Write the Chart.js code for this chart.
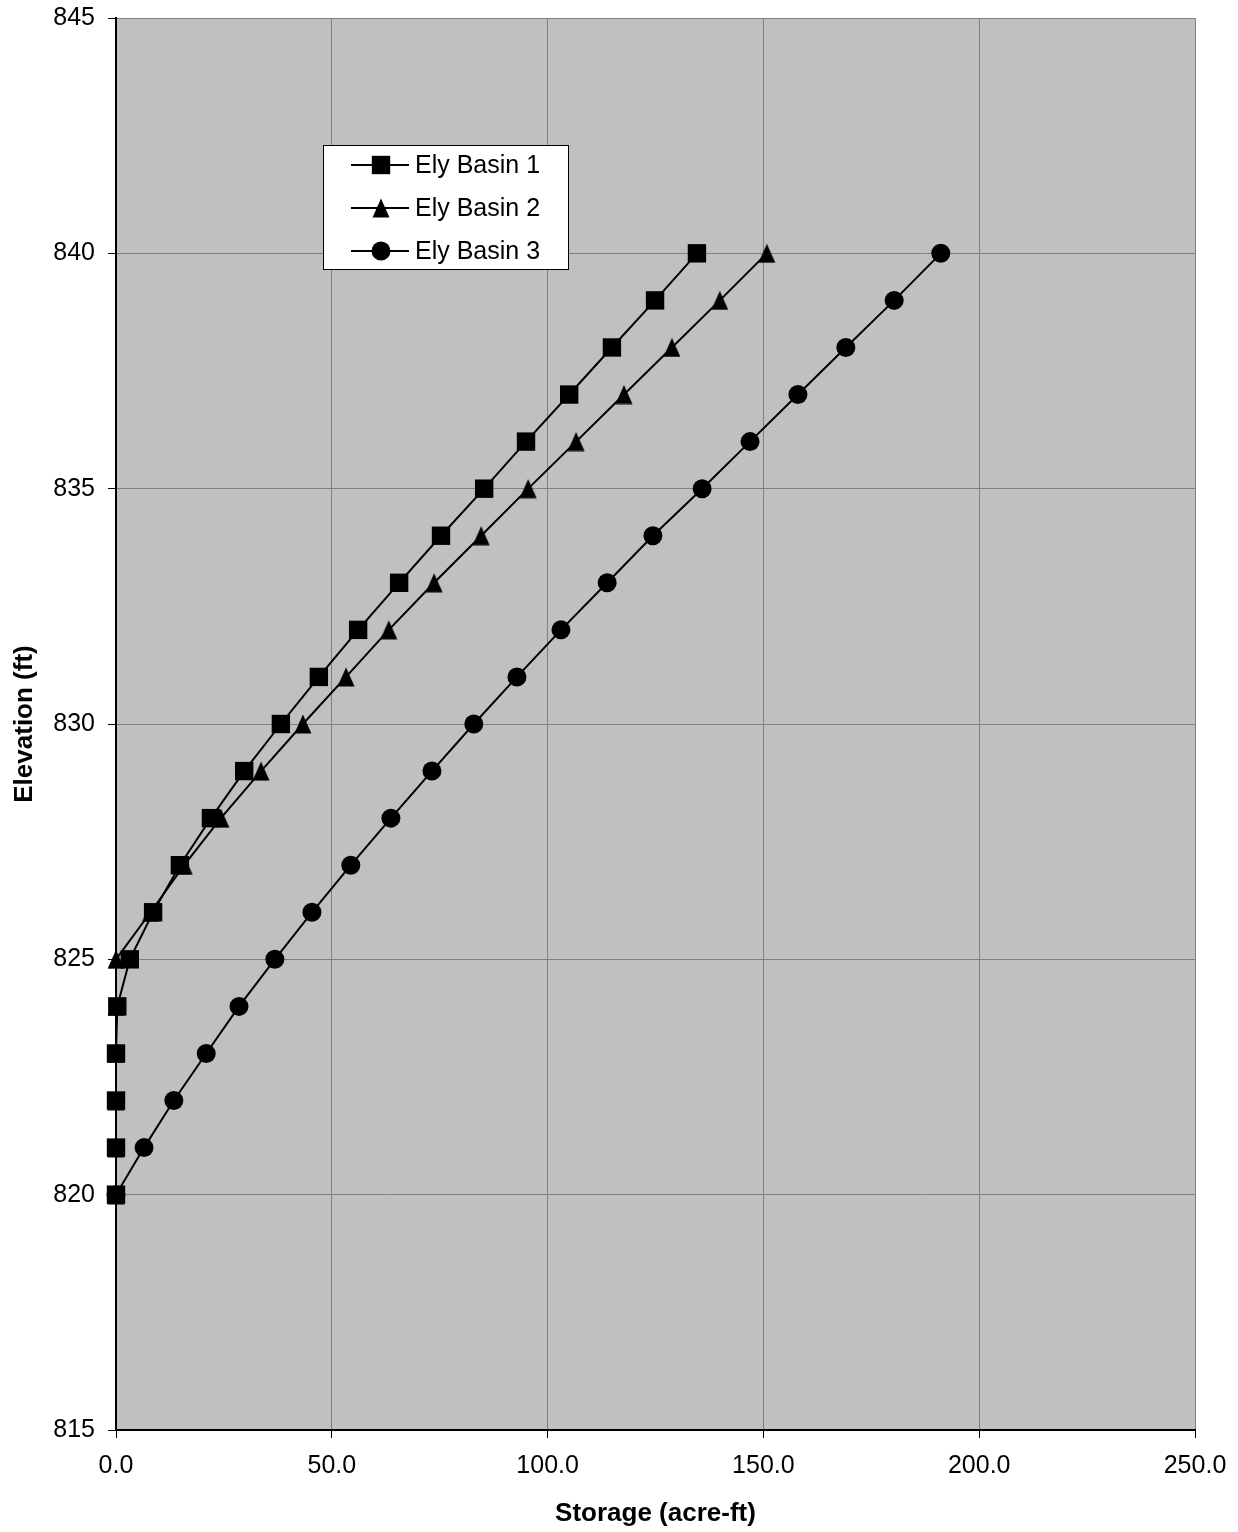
<!DOCTYPE html>
<html>
<head>
<meta charset="utf-8">
<script src="https://cdn.jsdelivr.net/npm/chart.js@4"></script>
<style>
  html, body { margin: 0; padding: 0; background: #fff; }
  #wrap { width: 1238px; height: 1532px; }
</style>
</head>
<body>
<div id="wrap"><canvas id="grafico" width="1238" height="1532"></canvas></div>
<script>
// Datos
const elevaciones = [820, 821, 822, 823, 824, 825, 826, 827, 828, 829, 830, 831, 832, 833, 834, 835, 836, 837, 838, 839, 840];
const cuenca1 = [0, 0, 0, 0, 0.3, 3.2, 8.6, 14.8, 22.0, 29.7, 38.2, 47.0, 56.1, 65.6, 75.3, 85.3, 95.0, 105.0, 114.9, 124.9, 134.6];
const cuenca2 = [0, 0, 0, 0, 0, 0, 8.0, 15.8, 24.3, 33.6, 43.3, 53.3, 63.2, 73.7, 84.6, 95.5, 106.6, 117.7, 128.8, 139.9, 150.8];
const cuenca3 = [0, 6.5, 13.4, 20.9, 28.5, 36.8, 45.4, 54.4, 63.7, 73.2, 82.9, 92.9, 103.1, 113.8, 124.4, 135.8, 146.9, 158.0, 169.1, 180.3, 191.1];
const nombres = ['Ely Basin 1', 'Ely Basin 2', 'Ely Basin 3'];

const fuente = "'Liberation Sans', Arial, sans-serif";

// Triangulo mas alto que el de Chart.js, como en el original
const triangulo = document.createElement('canvas');
triangulo.width = 18;
triangulo.height = 20;
(function () {
    const c = triangulo.getContext('2d');
    c.fillStyle = '#000';
    c.beginPath();
    c.moveTo(9, 0.5);
    c.lineTo(17.5, 19.5);
    c.lineTo(0.5, 19.5);
    c.closePath();
    c.fill();
})();

const simbolos = ['rect', triangulo, 'circle'];
const radios = [13, 10, 9.5];

function puntos(valores) {
    return valores.map((v, i) => ({ x: v, y: elevaciones[i] }));
}

const series = [cuenca1, cuenca2, cuenca3].map((valores, i) => ({
    label: nombres[i],
    data: puntos(valores),
    showLine: true,
    clip: false,
    borderColor: '#000',
    backgroundColor: '#000',
    borderWidth: 2,
    pointStyle: simbolos[i],
    pointRadius: radios[i],
    pointBorderWidth: 0,
    tension: 0
}));

// Fondo gris del area de trazado
const fondoGris = {
    id: 'fondoGris',
    beforeDraw(chart) {
        const { ctx, chartArea: a } = chart;
        ctx.save();
        ctx.fillStyle = '#c0c0c0';
        ctx.fillRect(a.left, a.top, a.right - a.left, a.bottom - a.top);
        ctx.restore();
    }
};

// Leyenda con recuadro blanco
const leyenda = {
    id: 'leyenda',
    afterDraw(chart) {
        const { ctx, chartArea: a } = chart;
        const x0 = a.left + 207, y0 = a.top + 127, w = 245, h = 124;
        ctx.save();
        ctx.fillStyle = '#fff';
        ctx.fillRect(x0, y0, w, h);
        ctx.strokeStyle = '#000';
        ctx.lineWidth = 1;
        ctx.strokeRect(x0 + 0.5, y0 + 0.5, w, h);
        ctx.font = '25px ' + fuente;
        ctx.textBaseline = 'middle';
        nombres.forEach((n, i) => {
            const y = y0 + 20 + i * 43;
            ctx.strokeStyle = '#000';
            ctx.lineWidth = 2;
            ctx.beginPath();
            ctx.moveTo(x0 + 28, y);
            ctx.lineTo(x0 + 86, y);
            ctx.stroke();
            ctx.fillStyle = '#000';
            Chart.helpers.drawPoint(ctx, { pointStyle: simbolos[i], radius: radios[i], borderWidth: 0 }, x0 + 58, y);
            ctx.fillStyle = '#000';
            ctx.fillText(n, x0 + 92, y + 1);
        });
        ctx.restore();
    }
};

new Chart(document.getElementById('grafico'), {
    type: 'scatter',
    data: { datasets: series },
    plugins: [fondoGris, leyenda],
    options: {
        responsive: false,
        animation: false,
        layout: { padding: { top: 18, right: 43, left: 0, bottom: 0 } },
        plugins: {
            legend: { display: false },
            tooltip: { enabled: false }
        },
        scales: {
            x: {
                type: 'linear',
                min: 0,
                max: 250,
                afterFit(s) {
                    s.height = 102;
                    s.paddingLeft = 0;
                    s.paddingRight = 0;
                },
                ticks: {
                    stepSize: 50,
                    color: '#000',
                    font: { family: fuente, size: 25 },
                    padding: 13,
                    maxRotation: 0,
                    callback: v => v.toFixed(1)
                },
                grid: { color: '#808080', lineWidth: 1, tickLength: 8, tickColor: '#000' },
                border: { color: '#000', width: 2 },
                title: {
                    display: true,
                    text: 'Storage (acre-ft)',
                    color: '#000',
                    font: { family: fuente, size: 26, weight: 'bold' },
                    padding: { top: 4, bottom: 3 }
                }
            },
            y: {
                type: 'linear',
                min: 815,
                max: 845,
                afterFit(s) {
                    s.width = 116;
                    s.paddingTop = 0;
                    s.paddingBottom = 0;
                },
                ticks: {
                    stepSize: 5,
                    color: '#000',
                    font: { family: fuente, size: 25 },
                    padding: 13
                },
                grid: { color: '#808080', lineWidth: 1, tickLength: 8, tickColor: '#000' },
                border: { color: '#000', width: 2 },
                title: {
                    display: true,
                    text: 'Elevation (ft)',
                    color: '#000',
                    font: { family: fuente, size: 26, weight: 'bold' },
                    padding: { top: 9, bottom: 0 }
                }
            }
        }
    }
});
</script>
</body>
</html>
